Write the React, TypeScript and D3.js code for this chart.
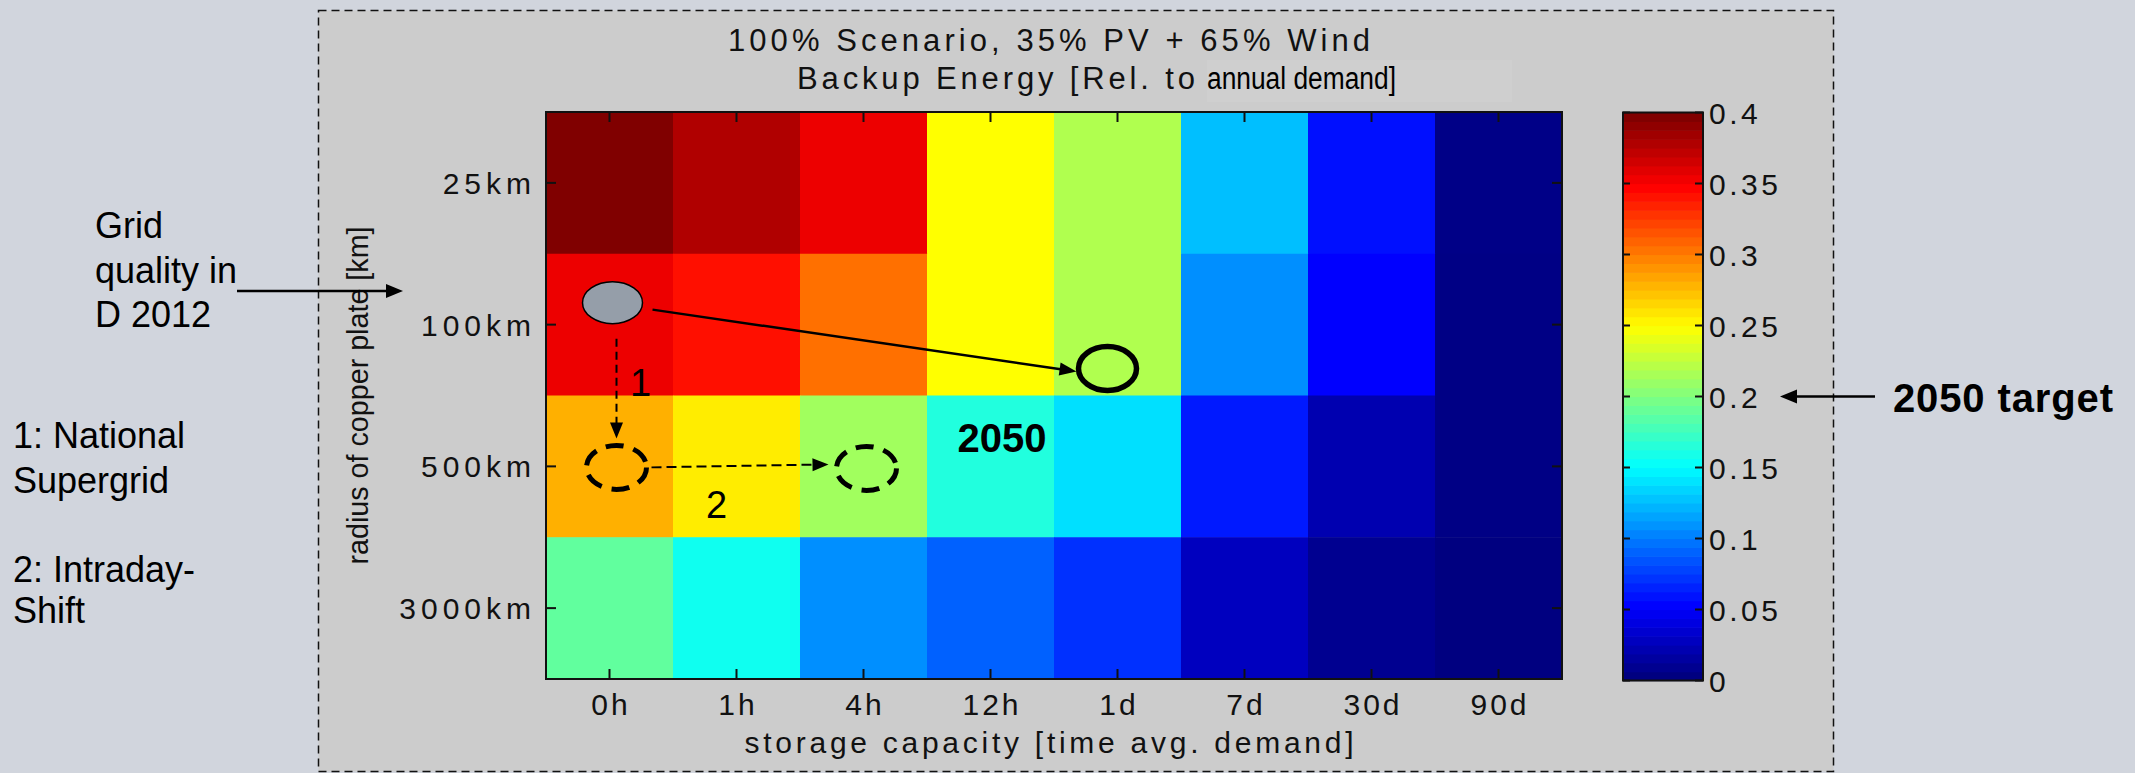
import React from "react";
import * as d3 from "d3";

// ---------- data ----------
const storageLabels = ["0h", "1h", "4h", "12h", "1d", "7d", "30d", "90d"];
const radiusLabels = ["25km", "100km", "500km", "3000km"];
const backup25km = [0.4, 0.381, 0.357, 0.25, 0.219, 0.125, 0.056, 0.003];
const backup100km = [0.357, 0.344, 0.306, 0.25, 0.219, 0.106, 0.05, 0.002];
const backup500km = [0.281, 0.257, 0.213, 0.163, 0.138, 0.06, 0.019, 0.002];
const backup3000km = [0.188, 0.156, 0.106, 0.088, 0.069, 0.025, 0.0065, 0.0];
const colorbarTicks = [0, 0.05, 0.1, 0.15, 0.2, 0.25, 0.3, 0.35, 0.4];
const colorbarTickLabels = ["0", "0.05", "0.1", "0.15", "0.2", "0.25", "0.3", "0.35", "0.4"];
const titleLine1 = "100% Scenario, 35% PV + 65% Wind";
const titleLine2a = "Backup Energy [Rel. to";
const titleLine2b = "annual demand]";
const xAxisTitle = "storage capacity [time avg. demand]";
const yAxisTitle = "radius of copper plate [km]";
const sideNote1 = ["Grid", "quality in", "D 2012"];
const sideNote2 = ["1: National", "Supergrid"];
const sideNote3 = ["2: Intraday-", "Shift"];
const targetLabel = "2050 target";
const targetValue = 0.2;

const rows = [backup25km, backup100km, backup500km, backup3000km];

// ---------- layout ----------
const W = 2135;
const H = 773;
const plot = { left: 546, right: 1562, top: 112, bottom: 679 };
const cbar = { left: 1623, right: 1703, top: 112.5, bottom: 680.5 };
const FONT = "'Liberation Sans', Arial, Helvetica, sans-serif";

const x = d3.scaleBand<string>().domain(storageLabels).range([plot.left, plot.right]);
const y = d3.scaleBand<string>().domain(radiusLabels).range([plot.top, plot.bottom]);
const cy = d3.scaleLinear().domain([0, 0.4]).range([cbar.bottom, cbar.top]);
const tScale = d3.scaleLinear().domain([0, 0.4]).range([0, 1]).clamp(true);

function jet(t: number): string {
  const c = (v: number) => Math.max(0, Math.min(1, v));
  const r = c(Math.min(4 * t - 1.5, -4 * t + 4.5));
  const g = c(Math.min(4 * t - 0.5, -4 * t + 3.5));
  const b = c(Math.min(4 * t + 0.5, -4 * t + 2.5));
  return d3.rgb(r * 255, g * 255, b * 255).formatHex();
}
const color = (v: number) => jet(tScale(v));

const cxOf = (s: string) => (x(s) as number) + x.bandwidth() / 2;
const cyOf = (r: string) => (y(r) as number) + y.bandwidth() / 2;

function Arrow(props: {
  x1: number; y1: number; x2: number; y2: number;
  dash?: string; sw?: number; hl?: number; hw?: number;
}) {
  const { x1, y1, x2, y2, dash, sw = 2, hl = 16, hw = 6.5 } = props;
  const dx = x2 - x1;
  const dy = y2 - y1;
  const len = Math.sqrt(dx * dx + dy * dy);
  const ux = dx / len;
  const uy = dy / len;
  const bx = x2 - ux * hl;
  const by = y2 - uy * hl;
  const px = -uy;
  const py = ux;
  const pts = `${x2},${y2} ${bx + px * hw},${by + py * hw} ${bx - px * hw},${by - py * hw}`;
  return (
    <g>
      <line x1={x1} y1={y1} x2={bx + ux * 1} y2={by + uy * 1} stroke="#000" strokeWidth={sw} strokeDasharray={dash} />
      <polygon points={pts} fill="#000" />
    </g>
  );
}

export default function App() {
  const bands = d3.range(64);
  const bandH = (cbar.bottom - cbar.top) / 64;

  // annotation anchors derived from the scales
  const grayE = { x: cxOf("0h") + 3, y: cyOf("100km") - 22 };
  const blackE = { x: cxOf("1d") - 10, y: (y("500km") as number) - 27 };
  const dash1 = { x: cxOf("0h") + 7, y: cyOf("500km") + 1 };
  const dash2 = { x: cxOf("4h") + 3, y: cyOf("500km") + 2 };

  return (
    <svg width={W} height={H} style={{ position: "absolute", left: 0, top: 0, display: "block" }} fontFamily={FONT}>
      <rect x={0} y={0} width={W} height={H} fill="#D1D5DD" />
      <rect x={318.5} y={10.5} width={1515} height={761} fill="#CCCCCC" stroke="#111" strokeWidth={1.5} strokeDasharray="8 5" />

      {/* title */}
      <text x={728} y={51} fontSize={31} fill="#111" textLength={642}>{titleLine1}</text>
      <rect x={1207} y={60} width={305} height={42} fill="#CFCFCF" />
      <text x={797} y={89} fontSize={31} fill="#111" textLength={398}>{titleLine2a}</text>
      <text x={1207} y={89} fontSize={31} fill="#000" fontFamily="'Liberation Sans Narrow', 'Arial Narrow', 'Liberation Sans', sans-serif" textLength={189} lengthAdjust="spacingAndGlyphs">{titleLine2b}</text>

      {/* heatmap cells */}
      {rows.map((vals, ri) =>
        vals.map((v, ci) => (
          <rect key={`${ri}-${ci}`} x={x(storageLabels[ci])} y={y(radiusLabels[ri])} width={x.bandwidth() + 0.5} height={y.bandwidth() + 0.5} fill={color(v)} />
        ))
      )}
      <rect x={plot.left} y={plot.top} width={plot.right - plot.left} height={plot.bottom - plot.top} fill="none" stroke="#111" strokeWidth={2} />

      {/* ticks */}
      {storageLabels.map((s) => (
        <g key={s}>
          <line x1={cxOf(s)} x2={cxOf(s)} y1={plot.bottom} y2={plot.bottom - 10} stroke="#111" strokeWidth={2} />
          <line x1={cxOf(s)} x2={cxOf(s)} y1={plot.top} y2={plot.top + 10} stroke="#111" strokeWidth={2} />
          <text x={cxOf(s) + 1.5} y={715} fontSize={30} textAnchor="middle" letterSpacing={3} fill="#111">{s}</text>
        </g>
      ))}
      {radiusLabels.map((r) => (
        <g key={r}>
          <line x1={plot.left} x2={plot.left + 10} y1={cyOf(r)} y2={cyOf(r)} stroke="#111" strokeWidth={2} />
          <line x1={plot.right - 10} x2={plot.right} y1={cyOf(r)} y2={cyOf(r)} stroke="#111" strokeWidth={2} />
          <text x={531 + 5} y={cyOf(r) + 11} fontSize={30} textAnchor="end" letterSpacing={5} fill="#111">{r}</text>
        </g>
      ))}

      {/* axis titles */}
      <text x={1049} y={753} fontSize={30} textAnchor="middle" textLength={609} fill="#111">{xAxisTitle}</text>
      <text transform={`translate(368,${(plot.top + plot.bottom) / 2}) rotate(-90)`} fontSize={30} textAnchor="middle" textLength={338} lengthAdjust="spacingAndGlyphs" fill="#111">{yAxisTitle}</text>

      {/* colorbar */}
      {bands.map((i) => (
        <rect key={i} x={cbar.left} y={cbar.bottom - (i + 1) * bandH} width={cbar.right - cbar.left} height={bandH + 0.6} fill={jet(i / 63)} />
      ))}
      <rect x={cbar.left} y={cbar.top} width={cbar.right - cbar.left} height={cbar.bottom - cbar.top} fill="none" stroke="#111" strokeWidth={2} />
      {colorbarTicks.map((t, i) => (
        <g key={t}>
          <line x1={cbar.left} x2={cbar.left + 7} y1={cy(t)} y2={cy(t)} stroke="#111" strokeWidth={2} />
          <line x1={cbar.right - 8} x2={cbar.right} y1={cy(t)} y2={cy(t)} stroke="#111" strokeWidth={2} />
          <text x={1709} y={cy(t) + 11} fontSize={30} letterSpacing={3.5} fill="#111">{colorbarTickLabels[i]}</text>
        </g>
      ))}

      {/* annotations inside the plot */}
      <Arrow x1={grayE.x + 40} y1={grayE.y + 7} x2={blackE.x - 31} y2={blackE.y + 3} sw={2.5} hl={17} hw={6.5} />
      <ellipse cx={grayE.x} cy={grayE.y} rx={30} ry={21} fill="#959EA9" stroke="#000" strokeWidth={1.5} />
      <ellipse cx={blackE.x} cy={blackE.y} rx={29} ry={22} fill="none" stroke="#000" strokeWidth={5.5} />
      <Arrow x1={dash1.x} y1={grayE.y + 36} x2={dash1.x} y2={dash1.y - 29} dash="8 5" sw={2} hl={16} hw={6.5} />
      <Arrow x1={dash1.x + 35} y1={dash1.y} x2={dash2.x - 38} y2={dash2.y - 4} dash="10 5" sw={2} hl={16} hw={6.5} />
      <ellipse cx={dash1.x} cy={dash1.y} rx={30} ry={22} fill="none" stroke="#000" strokeWidth={5} strokeDasharray="18 10" />
      <ellipse cx={dash2.x} cy={dash2.y} rx={30} ry={22} fill="none" stroke="#000" strokeWidth={5} strokeDasharray="18 10" />
      <text x={cxOf("0h") + 31} y={(y("500km") as number)} fontSize={38} textAnchor="middle" fill="#000">1</text>
      <text x={cxOf("1h") - 20} y={(y("3000km") as number) - 19} fontSize={38} textAnchor="middle" fill="#000">2</text>
      <text x={cxOf("12h") + 11.5} y={(y("500km") as number) + 56.5} fontSize={40} fontWeight="bold" textAnchor="middle" fill="#000">2050</text>

      {/* side notes */}
      {sideNote1.map((s, i) => (
        <text key={s} x={95} y={238 + i * 44.5} fontSize={36} fill="#000">{s}</text>
      ))}
      <Arrow x1={237} y1={291} x2={403} y2={291} sw={2.5} hl={17} hw={7} />
      {sideNote2.map((s, i) => (
        <text key={s} x={13} y={448 + i * 45} fontSize={36} fill="#000">{s}</text>
      ))}
      {sideNote3.map((s, i) => (
        <text key={s} x={13} y={582 + i * 41} fontSize={36} fill="#000">{s}</text>
      ))}
      <Arrow x1={1875} y1={cy(targetValue)} x2={1780} y2={cy(targetValue)} sw={2.5} hl={17} hw={7} />
      <text x={1893} y={412} fontSize={40} fontWeight="bold" textLength={220} fill="#000">{targetLabel}</text>
    </svg>
  );
}
